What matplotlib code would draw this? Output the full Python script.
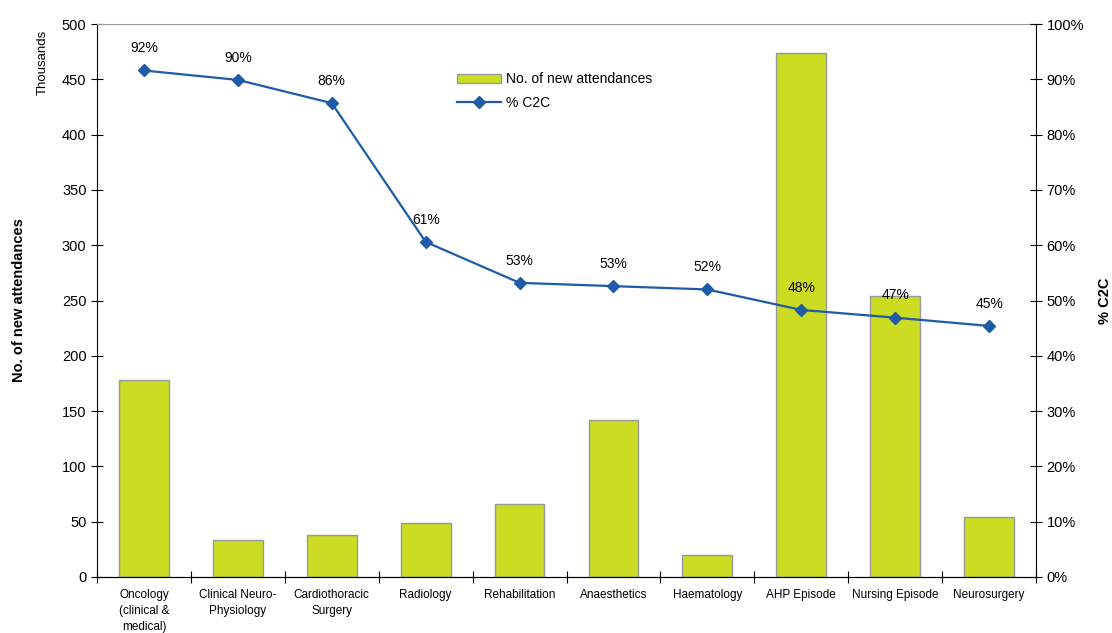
import numpy as np
import matplotlib.pyplot as plt
plt.switch_backend('agg')

categories = ['Oncology\n(clinical &\nmedical)', 'Clinical Neuro-\nPhysiology', 'Cardiothoracic\nSurgery',
              'Radiology', 'Rehabilitation', 'Anaesthetics', 'Haematology', 'AHP Episode',
              'Nursing Episode', 'Neurosurgery']
attendances = [178, 33, 38, 49, 66, 142, 20, 474, 254, 54]   # thousands
c2c = [91.6, 89.9, 85.7, 60.6, 53.2, 52.6, 52.0, 48.3, 46.9, 45.4]  # percent

plt.rcParams['font.family'] = ['Liberation Sans', 'DejaVu Sans']

fig = plt.figure(figsize=(11.12, 6.33), dpi=100)
ax = fig.add_axes([0.0872, 0.0885, 0.8445, 0.8735])
x = np.arange(len(categories))

bars = ax.bar(x, attendances, width=0.53, color='#CCDC22', edgecolor='#999999',
              linewidth=1.0, label='No. of new attendances', zorder=2)
ax.set_xlim(-0.5, len(categories) - 0.5)
ax.set_ylim(0, 500)
ax.set_yticks(np.arange(0, 501, 50))
ax.tick_params(axis='y', direction='inout', length=8, labelsize=10.5)
ax.set_xticks(np.arange(-0.5, len(categories) + 0.5, 1))
ax.set_xticklabels([])
ax.set_xticks(x, minor=True)
ax.set_xticklabels(categories, minor=True, fontsize=8.5, linespacing=1.4)
ax.tick_params(axis='x', which='major', direction='inout', length=8)
ax.tick_params(axis='x', which='minor', length=0, pad=9)
ax.set_ylabel('No. of new attendances', fontsize=10.5, fontweight='bold', labelpad=26)
ax.text(-0.0575, 0.931, 'Thousands', transform=ax.transAxes, rotation=90,
        fontsize=9.5, ha='center', va='center')
ax.spines['top'].set_color('#999999')
ax.spines['right'].set_visible(False)

ax2 = ax.twinx()
line, = ax2.plot(x, c2c, color='#1F5BA6', linewidth=1.6, marker='D', markersize=6,
                 label='% C2C', zorder=3)
ax2.set_ylim(0, 100)
ax2.set_yticks(np.arange(0, 101, 10))
ax2.set_yticklabels(['%d%%' % v for v in range(0, 101, 10)])
ax2.tick_params(axis='y', direction='inout', length=8, labelsize=10.5)
ax2.set_ylabel('% C2C', fontsize=10.5, fontweight='bold', labelpad=10)
ax2.spines['top'].set_visible(False)
ax2.spines['left'].set_visible(False)
for xi, v in zip(x, c2c):
    ax2.annotate('%d%%' % round(v), (xi, v), xytext=(0, 11), textcoords='offset points',
                 ha='center', va='bottom', fontsize=10)

ax.legend([bars, line], ['No. of new attendances', '% C2C'], loc='upper left',
          bbox_to_anchor=(0.37, 0.935), frameon=False, fontsize=10,
          handlelength=3.2, handletextpad=0.3, labelspacing=0.7)

plt.savefig('out.png', dpi=100)
plt.close('all')
